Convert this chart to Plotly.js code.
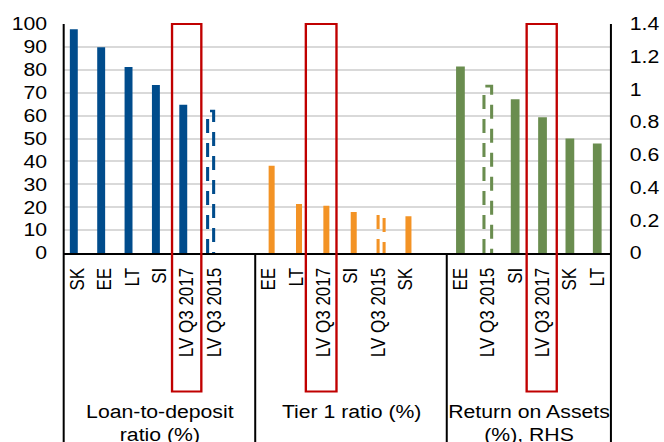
<!DOCTYPE html>
<html>
<head>
<meta charset="utf-8">
<script src="https://cdn.plot.ly/plotly-3.0.1.min.js"></script>
<style>
  html, body { margin: 0; padding: 0; background: #fff; overflow: hidden; width: 664px; height: 442px; }
  /* the chart is laid out narrower and widened horizontally */
  #chart { width: 563px; height: 442px; transform: scaleX(1.1794); transform-origin: 0 0; }
</style>
</head>
<body>
<div id="chart"></div>
<script>
// Loan-to-deposit ratio (%), left axis
const ltdLabels = ['SK', 'EE', 'LT', 'SI', 'LV Q3 2017', 'LV Q3 2015'];
const ltdValues = [97.7, 89.8, 81.2, 73.4, 64.7, 62.0];

// Tier 1 ratio (%), left axis
const tier1Labels = ['EE', 'LT', 'LV Q3 2017', 'SI', 'LV Q3 2015', 'SK'];
const tier1Values = [38.1, 21.4, 20.6, 17.9, 17.0, 16.1];

// Return on Assets (%), right axis
const roaLabels = ['EE', 'LV Q3 2015', 'SI', 'LV Q3 2017', 'SK', 'LT'];
const roaValues = [1.14, 1.02, 0.94, 0.83, 0.70, 0.67];

const groupTitles = ['Loan-to-deposit<br>ratio (%)', 'Tier 1 ratio (%)', 'Return on Assets<br>(%), RHS'];

const previousPeriod = 'LV Q3 2015';   // drawn as a dashed outline
const currentPeriod = 'LV Q3 2017';    // boxed in red

const FONT = 'Liberation Sans, Arial, sans-serif';
const SLOTS_PER_GROUP = 7;             // six categories plus a spacer

const groups = [
  { labels: ltdLabels,   values: ltdValues,   color: '#004c8c', yaxis: 'y',  shift: -0.13, width: 0.29, dashW: 0.22, box: [-0.54, 0.53] },
  { labels: tier1Labels, values: tier1Values, color: '#f39325', yaxis: 'y',  shift:  0.10, width: 0.22, dashW: 0.22, box: [-0.65, 0.47] },
  { labels: roaLabels,   values: roaValues,   color: '#6a8d4f', yaxis: 'y2', shift:  0.00, width: 0.32, dashW: 0.28, box: [-0.58, 0.52] }
];

const nSlots = SLOTS_PER_GROUP * (groups.length - 1) + groups[groups.length - 1].labels.length;
const xMin = -0.5, xMax = nSlots - 0.5;

const traces = [];
const tickvals = [], ticktext = [];
const shapes = [];
const annotations = [];

groups.forEach((g, gi) => {
  const start = gi * SLOTS_PER_GROUP;
  const solidX = [], solidY = [];
  g.labels.forEach((lab, i) => {
    const pos = start + i;
    tickvals.push(pos);
    ticktext.push(lab);
    if (lab === previousPeriod) {
      // dashed outline bar built from its value
      const v = g.values[i];
      const x0 = pos + g.shift - g.dashW / 2, x1 = pos + g.shift + g.dashW / 2;
      traces.push({
        type: 'scatter', mode: 'lines', yaxis: g.yaxis,
        x: [x0, x0, x1, x1], y: [0, v, v, 0],
        line: { color: g.color, width: 2.6, dash: '14px,10px' },
        hoverinfo: 'skip', showlegend: false, cliponaxis: false
      });
    } else {
      solidX.push(pos);
      solidY.push(g.values[i]);
    }
    if (lab === currentPeriod) {
      shapes.push({
        type: 'rect', xref: 'x', yref: 'paper',
        x0: pos + g.box[0], x1: pos + g.box[1], y0: -0.605, y1: 1,
        line: { color: '#c00000', width: 2 }, fillcolor: 'rgba(0,0,0,0)', layer: 'above'
      });
    }
  });
  traces.push({
    type: 'bar', yaxis: g.yaxis, x: solidX, y: solidY,
    width: g.width, offset: g.shift - g.width / 2,
    marker: { color: g.color, line: { width: 0 } },
    hoverinfo: 'skip', showlegend: false
  });

  // group title and separators below the axis
  const left = start - 0.5;
  const right = Math.min(left + SLOTS_PER_GROUP, xMax);
  annotations.push({
    xref: 'x', yref: 'paper', x: (left + right) / 2, y: -0.64,
    xanchor: 'center', yanchor: 'top', showarrow: false, align: 'center',
    text: groupTitles[gi], font: { family: FONT, size: 18, color: '#000' }
  });
});

// frame lines: outer edges run full height, inner separators only under the axis
const edges = [];
for (let gi = 0; gi <= groups.length; gi++) {
  const bx = gi < groups.length ? gi * SLOTS_PER_GROUP - 0.5 : xMax;
  edges.push(bx);
}
edges.forEach((bx, k) => {
  const outer = (k === 0 || k === edges.length - 1);
  shapes.push({
    type: 'line', xref: 'paper', yref: 'paper',
    x0: (bx - xMin) / (xMax - xMin), x1: (bx - xMin) / (xMax - xMin),
    y0: -0.83, y1: outer ? 1 : 0,
    line: { color: '#000', width: 1.7 }, layer: 'above'
  });
});

const layout = {
  width: 563, height: 442,
  margin: { l: 53.8, r: 44.9, t: 24, b: 188.7, pad: 0 },
  paper_bgcolor: '#fff', plot_bgcolor: '#fff',
  barmode: 'overlay',
  showlegend: false,
  font: { family: FONT, color: '#000' },
  xaxis: {
    range: [xMin, xMax], tickmode: 'array', tickvals: tickvals, ticktext: ticktext,
    tickangle: -90, tickfont: { family: FONT, size: 17, color: '#000' },
    showgrid: false, zeroline: false, showline: true, linecolor: '#000', linewidth: 2,
    ticks: '', ticklabelstandoff: 6
  },
  yaxis: {
    range: [0, 100], dtick: 10, tick0: 0,
    showgrid: true, gridcolor: '#d9d9d9', gridwidth: 2,
    zeroline: false, showline: false, ticks: '',
    tickfont: { family: FONT, size: 18, color: '#000' }, ticklabelstandoff: 13
  },
  yaxis2: {
    overlaying: 'y', side: 'right', range: [0, 1.4], dtick: 0.2, tick0: 0,
    showgrid: false, zeroline: false, showline: false, ticks: '',
    tickfont: { family: FONT, size: 18, color: '#000' }, ticklabelstandoff: 15
  },
  shapes: shapes,
  annotations: annotations
};

Plotly.newPlot('chart', traces, layout, { displayModeBar: false, staticPlot: true });
</script>
</body>
</html>
